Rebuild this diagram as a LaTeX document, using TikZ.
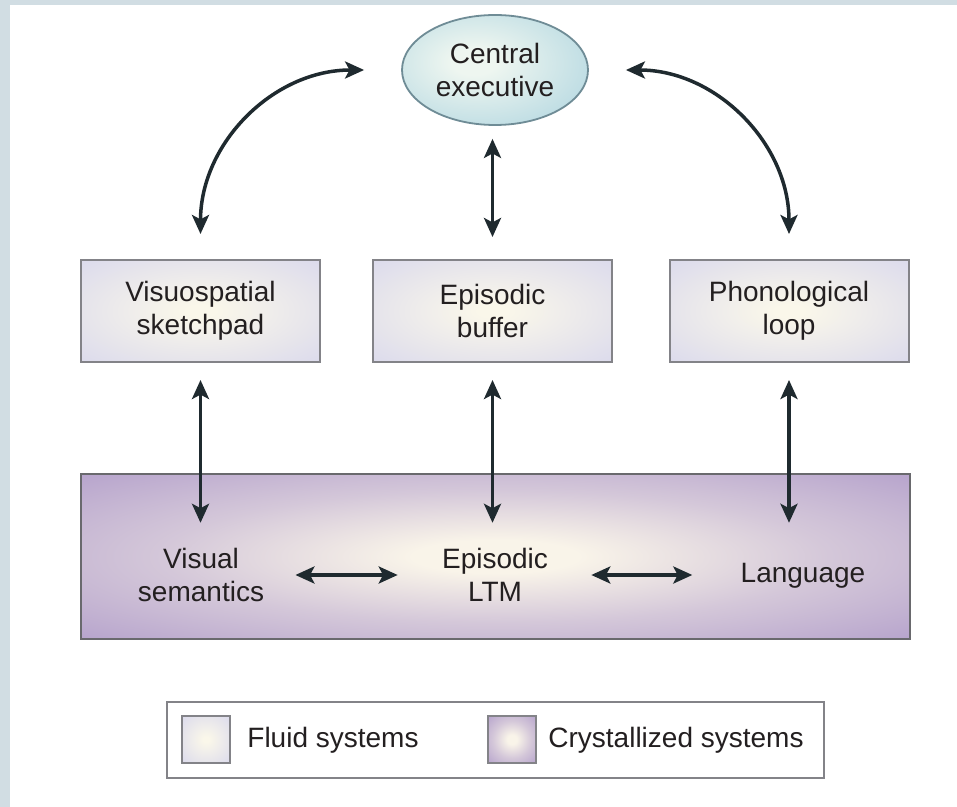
\documentclass[tikz,border=0pt]{standalone}
\usepackage{fontspec}
\setmainfont{Liberation Sans}
\usetikzlibrary{arrows.meta,shapes.geometric}
\definecolor{stripc}{HTML}{D1DDE3}
\definecolor{fluidc}{HTML}{FAF7EA}
\definecolor{fluide}{HTML}{DDDCEC}
\definecolor{crystc}{HTML}{F9F4E9}
\definecolor{cryste}{HTML}{B6A3CC}
\definecolor{cec}{HTML}{EEF6F0}
\definecolor{cee}{HTML}{A4CFDD}
\definecolor{cebord}{HTML}{6F8C96}
\definecolor{arrowc}{HTML}{1F2A2F}
\definecolor{txtc}{HTML}{231F20}
\definecolor{bordc}{HTML}{838388}
\pgfdeclareradialshading{fluidsh}{\pgfpoint{0bp}{0bp}}{color(0bp)=(fluidc); color(3bp)=(fluidc); color(34bp)=(fluide); color(100bp)=(fluide)}
\pgfdeclareradialshading{crystsh}{\pgfpoint{0bp}{0bp}}{color(0bp)=(crystc); color(5bp)=(crystc); color(20bp)=(crystc!45!cryste); color(36bp)=(cryste); color(100bp)=(cryste)}
\pgfdeclareradialshading{cesh}{\pgfpoint{-6bp}{4bp}}{color(0bp)=(cec); color(6bp)=(cec); color(44bp)=(cee); color(100bp)=(cee)}
\tikzset{
  every node/.style={text=txtc, font=\fontsize{14pt}{16.5pt}\selectfont, inner sep=0pt, align=center},
  fluidbox/.style={draw=bordc, line width=1pt, shade, shading=fluidsh, minimum width=119.5pt, minimum height=51pt},
  crystbox/.style={draw=bordc!80!black, line width=1pt, shade, shading=crystsh, minimum width=414.5pt, minimum height=82.5pt},
  cestyle/.style={ellipse, draw=cebord, line width=0.9pt, shade, shading=cesh, minimum width=93pt, minimum height=55pt},
  swatch/.style={draw=bordc, line width=0.9pt, shade, minimum width=24pt, minimum height=23.5pt},
  legbox/.style={draw=bordc, line width=0.8pt, minimum width=328.5pt, minimum height=38pt},
  arr/.style={draw=arrowc, line width=1.75pt, >={Stealth[length=9.5pt,width=8.5pt,inset=2.2pt]}, <->}
}
\begin{document}
\begin{tikzpicture}[x=0.5pt,y=-0.5pt]
\useasboundingbox (0,0) rectangle (957,807);
\fill[white] (0,0) rectangle (957,807);
\fill[stripc] (0,0) rectangle (10,807);
\fill[stripc] (0,0) rectangle (957,5);

% nodes
\node[cestyle] (ce) at (495,70) {Central\\executive};
\node[fluidbox] (vs) at (200.5,311) {Visuospatial\\sketchpad};
\node[fluidbox] (eb) at (492.5,311) {Episodic\\buffer};
\node[fluidbox] (pl) at (789,311) {Phonological\\loop};
\node[crystbox] (cry) at (495.5,556.5) {};
\node (vsem) at (201,575) {Visual\\semantics};
\node (eltm) at (495,575) {Episodic\\LTM};
\node (lang) at (803,576) {Language};

% legend
\node[legbox] (leg) at (495.5,740) {};
\node[swatch, shading=fluidsh] (sw1) at (206,739.5) {};
\node[swatch, shading=crystsh] (sw2) at (512,739.5) {};
\node[anchor=west] (lt1) at (247,740) {Fluid systems};
\node[anchor=west] (lt2) at (548,740) {Crystallized systems};

% connectors
\draw[arr] ([yshift=12.5pt]vs.north) to[out=90,in=180] ([xshift=-18.5pt]ce.west);
\draw[arr] ([xshift=18.5pt]ce.east) to[out=0,in=90] ([yshift=12.5pt]pl.north);
\draw[arr, shorten <=6.5pt, shorten >=11pt] (eb.north |- ce.south) -- (eb.north);
\draw[arr, shorten <=8.5pt, shorten >=12.5pt] (vs.south) -- (vs.south |- vsem.north);
\draw[arr, shorten <=8.5pt, shorten >=12.5pt] (eb.south) -- (eb.south |- vsem.north);
\draw[arr, shorten <=8.5pt, shorten >=12.5pt] (pl.south) -- (pl.south |- vsem.north);
\draw[arr, shorten <=15.5pt, shorten >=22pt] (vsem.east) -- (eltm.west);
\draw[arr, shorten <=21.5pt, shorten >=24pt] (eltm.east) -- (lang.west |- eltm.east);
\end{tikzpicture}
\end{document}
